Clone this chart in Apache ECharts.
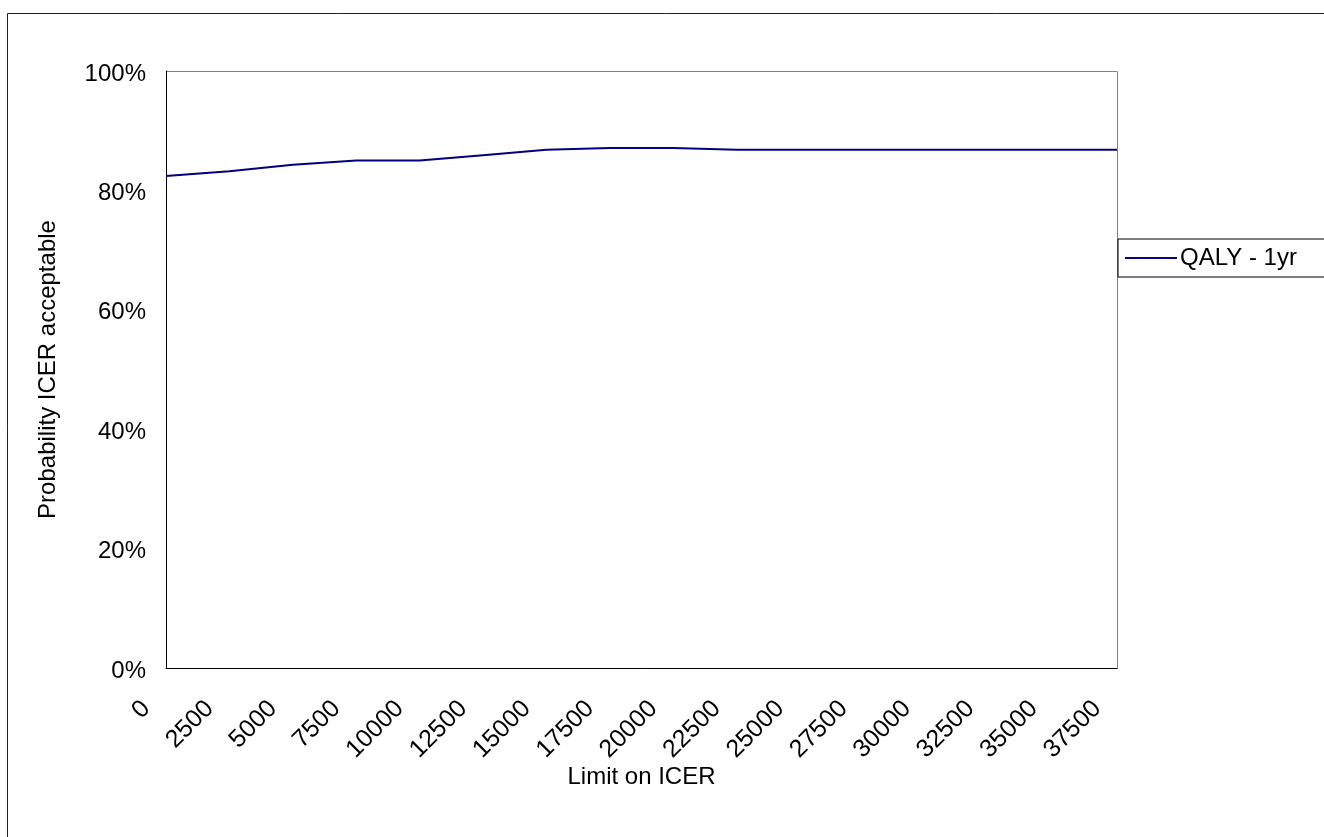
<!DOCTYPE html>
<html>
<head>
<meta charset="utf-8">
<script src="https://cdn.jsdelivr.net/npm/echarts@6/dist/echarts.min.js"></script>
<style>
html,body{margin:0;padding:0;background:#fff;}
#main{width:1324px;height:837px;}
</style>
</head>
<body>
<div id="main"></div>
<script>
const categories = ['0','2500','5000','7500','10000','12500','15000','17500','20000','22500','25000','27500','30000','32500','35000','37500'];
const seriesName = 'QALY - 1yr';
const values = [0.824, 0.832, 0.843, 0.850, 0.850, 0.859, 0.868, 0.871, 0.871, 0.868, 0.868, 0.868, 0.868, 0.868, 0.868, 0.868];
const yTicks = [0, 0.2, 0.4, 0.6, 0.8, 1.0];

const chart = echarts.init(document.getElementById('main'));
const font = 'Liberation Sans, Arial, sans-serif';
chart.setOption({
  animation: false,
  backgroundColor: '#fff',
  graphic: [
    {type: 'rect', shape: {x: 7.5, y: 13.5, width: 1400, height: 1000}, style: {fill: 'none', stroke: '#222', lineWidth: 1}, z: -1},
    {type: 'rect', shape: {x: 166.5, y: 71.5, width: 951, height: 597}, style: {fill: 'none', stroke: '#808080', lineWidth: 1}, z: 0}
  ],
  grid: {left: 166, top: 71, right: 207, bottom: 169, containLabel: false},
  legend: {
    data: [{name: seriesName, icon: 'rect'}],
    left: 1118, top: 239,
    itemWidth: 52, itemHeight: 2, itemGap: 4,
    padding: [7, 60, 7, 7],
    borderColor: '#000', borderWidth: 1,
    textStyle: {fontFamily: font, fontSize: 24, color: '#000', padding: [2,0,0,-2]}
  },
  xAxis: {
    type: 'category',
    data: categories,
    boundaryGap: false,
    name: 'Limit on ICER',
    nameLocation: 'middle',
    nameGap: 97,
    nameMoveOverlap: false,
    nameTextStyle: {fontFamily: font, fontSize: 24, color: '#000'},
    axisLine: {lineStyle: {color: '#000', width: 1}},
    axisTick: {show: false},
    axisLabel: {rotate: 45, margin: 17, interval: 0, fontFamily: font, fontSize: 25, color: '#000', padding: [0, 28, 0, 0]},
    splitLine: {show: false}
  },
  yAxis: {
    type: 'value',
    min: 0, max: 1, interval: 0.2,
    name: 'Probability ICER acceptable',
    nameLocation: 'middle',
    nameGap: 106,
    nameMoveOverlap: false,
    nameTextStyle: {fontFamily: font, fontSize: 24, color: '#000'},
    axisLine: {show: true, lineStyle: {color: '#000', width: 1}},
    axisTick: {show: false},
    axisLabel: {margin: 20, fontFamily: font, fontSize: 24, color: '#000',
      formatter: v => yTicks.some(t => Math.abs(t - v) < 1e-9) ? '{p|' + Math.round(v * 100) + '%}' : '',
      rich: {p: {fontFamily: font, fontSize: 24, color: '#000', padding: [6, 0, 0, 0]}}},
    splitLine: {show: false}
  },
  series: [{
    name: seriesName,
    type: 'line',
    data: values,
    symbol: 'none',
    lineStyle: {color: '#000080', width: 2},
    itemStyle: {color: '#000080'}
  }]
});
</script>
</body>
</html>
